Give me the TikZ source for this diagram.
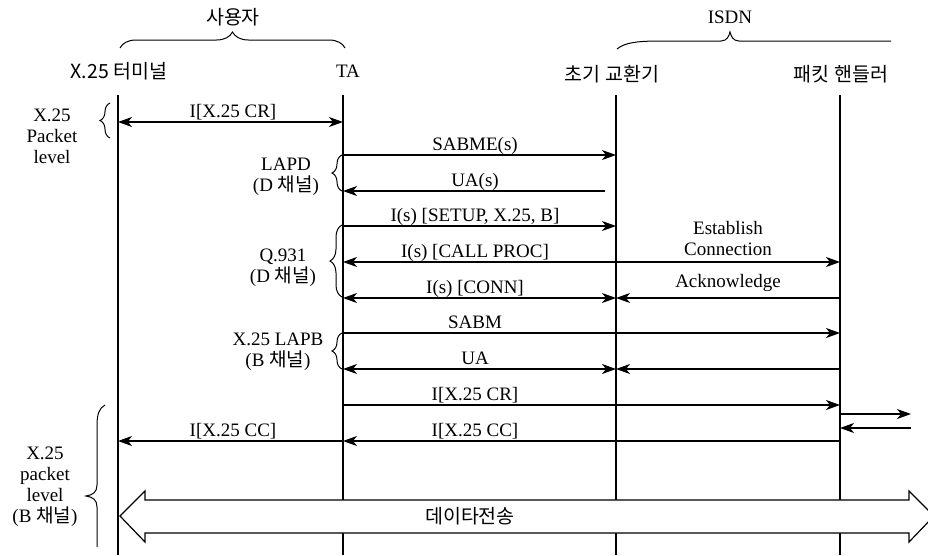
\documentclass[tikz,border=0pt]{standalone}
\usepackage{fontspec}
\setmainfont{Liberation Serif}
\newfontfamily\kr{Noto Sans CJK KR}
\usetikzlibrary{arrows.meta,decorations.pathreplacing}
\begin{document}
\begin{tikzpicture}[x=1pt,y=-1pt,
  >={Stealth[length=14pt,width=10pt,inset=4pt]},
  life/.style={line width=1.1pt},
  msg/.style={line width=1.2pt},
  brc/.style={line width=1pt,decorate,decoration={brace,amplitude=#1}},
  lbl/.style={inner sep=0pt,anchor=base,font=\fontsize{19}{21}\selectfont},
  side/.style={inner sep=0pt,align=center,font=\fontsize{19}{21}\selectfont},
  hdr/.style={inner sep=0pt,font=\kr\fontsize{19.5}{22}\selectfont},
  ser/.style={inner sep=0pt,font=\fontsize{19}{21}\selectfont}]
\useasboundingbox (0,0) rectangle (928,555);

% lifelines
\coordinate (L1) at (118,95);
\coordinate (L2) at (343,95);
\coordinate (L3) at (616,95);
\coordinate (L4) at (840,95);
\coordinate (E) at (0,555);
\foreach \l in {L1,L2,L3,L4} \draw[life] (\l) -- (\l|-E);

% headers
\node[hdr] (hterm) at (119,71) {X.25 터미널};
\node[ser] (hta) at (348,71) {TA};
\node[hdr] (hsw) at (612,74) {초기 교환기};
\node[hdr] (hph) at (841,74) {패킷 핸들러};
\node[hdr] (huser) at (233,17) {사용자};
\node[ser] (hisdn) at (730,17) {ISDN};
\draw[brc=16pt] (120,48) -- (345,48);
\draw[line width=1pt] (617,49) .. controls (625,42) and (640,41) .. (662,41) -- (721,41)
  .. controls (727,41) and (729,36) .. (730,32) .. controls (731,36) and (733,41) .. (739,41) -- (891,41);

% left side labels and braces
\node[side] (pl1) at (52,136) {X.25\\Packet\\level};
\draw[brc=10pt] (110,138) -- (110,103);
\node[side] (lapd) at (286,177) {LAPD\\(D {\kr 채널})};
\draw[brc=10pt] (342,191) -- (342,155);
\node[side] (q931) at (283,268) {Q.931\\(D {\kr 채널})};
\draw[brc=12pt] (342,297) -- (342,225);
\node[side] (lapb) at (278,352) {X.25 LAPB\\(B {\kr 채널})};
\draw[brc=10pt] (342,369) -- (342,333);
\node[side] (pl2) at (45,487) {X.25\\packet\\level\\(B {\kr 채널})};
\draw[line width=1pt] (105,405) .. controls (99,408) and (97,415) .. (97,425) -- (97,485)
  .. controls (97,492) and (93,495) .. (86,496) .. controls (93,497) and (97,500) .. (97,507) -- (97,547);

% messages
\coordinate (m1) at (0,122);
\draw[msg,<->] (L1|-m1) -- (L2|-m1);
\node[lbl] (t1) at (233,117) {I[X.25 CR]};

\coordinate (m2) at (0,155);
\draw[msg,->] (L2|-m2) -- (L3|-m2);
\node[lbl] (t2) at (475,150) {SABME(s)};

\coordinate (m3) at (605,191);
\draw[msg,->] (m3) -- (L2|-m3);
\node[lbl] (t3) at (475,186) {UA(s)};

\coordinate (m4) at (0,226);
\draw[msg,->] (L2|-m4) -- (L3|-m4);
\node[lbl] (t4) at (475,221) {I(s) [SETUP, X.25, B]};

\coordinate (m5) at (0,262);
\draw[msg,<->] (L2|-m5) -- (L4|-m5);
\node[lbl] (t5) at (475,257) {I(s) [CALL PROC]};
\node[side,anchor=south] (t5b) at (728,256) {Establish\\Connection};

\coordinate (m6) at (0,298);
\draw[msg,<->] (L2|-m6) -- (L3|-m6);
\draw[msg,->] (L4|-m6) -- (L3|-m6);
\node[lbl] (t6) at (475,293) {I(s) [CONN]};
\node[lbl] (t6b) at (728,287) {Acknowledge};

\coordinate (m7) at (0,333);
\draw[msg,->] (L2|-m7) -- (L4|-m7);
\node[lbl] (t7) at (475,328) {SABM};

\coordinate (m8) at (0,369);
\draw[msg,<->] (L2|-m8) -- (L3|-m8);
\draw[msg,->] (L4|-m8) -- (L3|-m8);
\node[lbl] (t8) at (475,364) {UA};

\coordinate (m9) at (0,405);
\draw[msg,->] (L2|-m9) -- (L4|-m9);
\node[lbl] (t9) at (475,400) {I[X.25 CR]};

\coordinate (r1) at (911,414);
\draw[msg,->] (L4|-r1) -- (r1);
\coordinate (r2) at (911,428);
\draw[msg,->] (r2) -- (L4|-r2);

\coordinate (m11) at (0,441);
\draw[msg,->] (L4|-m11) -- (L2|-m11);
\draw[msg,->] (L2|-m11) -- (L1|-m11);
\node[lbl] (t11) at (475,436) {I[X.25 CC]};
\node[lbl] (t11b) at (233,436) {I[X.25 CC]};

% data transfer arrow
\draw[line width=1.2pt,fill=white,line join=miter] (120,516) -- (145,491) -- (145,500) -- (909,500) -- (909,491)
  -- (934,516) -- (909,542) -- (909,533) -- (145,533) -- (145,542) -- cycle;
\node[hdr] (data) at (470,516) {데이타전송};
\end{tikzpicture}
\end{document}
